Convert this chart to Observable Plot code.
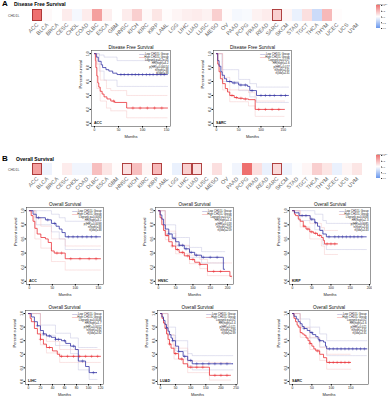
<!DOCTYPE html>
<html><head><meta charset="utf-8">
<script src="https://cdn.jsdelivr.net/npm/d3@7"></script>
<script src="https://cdn.jsdelivr.net/npm/@observablehq/plot@0.6"></script>
<style>
body{margin:0;background:#fff;font-family:"Liberation Sans",Arial,sans-serif}
#root{position:relative;width:392px;height:400px;overflow:hidden;background:#fff}
.t{position:absolute;font-weight:bold;color:#000;white-space:nowrap;line-height:1}
</style></head><body><div id="root"></div>
<script>
// ---------- heatmap data ----------
const cancers = ["ACC","BLCA","BRCA","CESC","CHOL","COAD","DLBC","ESCA","GBM","HNSC","KICH","KIRC","KIRP","LAML","LGG","LIHC","LUAD","LUSC","MESO","OV","PAAD","PCPG","PRAD","READ","SARC","SKCM","STAD","TGCT","THCA","THYM","UCEC","UCS","UVM"];
const dfsLogHR = [0.45,0.02,0.0,0.06,-0.03,0.06,0.3,0.05,0.0,0.06,0.15,0.02,0.08,0.01,0.03,0.05,0.06,0.04,0.15,0.01,-0.03,-0.02,0.04,0.06,0.15,0.03,-0.06,0.1,-0.15,0.22,0.01,0.0,0.0];
const osLogHR  = [0.3,-0.05,0.0,0.06,-0.04,-0.04,0.2,0.08,0.01,0.1,0.2,0.03,0.22,0.0,-0.06,0.15,0.1,0.01,0.1,0.0,-0.04,0.45,0.1,-0.06,0.12,-0.05,-0.01,0.03,0.15,0.08,-0.06,0.03,0.08];
const dfsSig = ["ACC","SARC"];
const osSig = ["ACC","HNSC","KIRP","LIHC","LUAD","SARC"];
const legendTicks = [-0.6,-0.3,0,0.3,0.6];

// ---------- KM data: [months, survival] ----------
const accDfsLow  = [[0,1],[4,0.95],[8,0.89],[14,0.84],[17,0.8],[24,0.77],[30,0.75],[38,0.72],[47,0.7],[152,0.7]];
const accDfsHigh = [[0,1],[2,0.9],[3,0.8],[5,0.68],[7,0.58],[9,0.52],[12,0.46],[16,0.42],[20,0.38],[26,0.35],[34,0.32],[42,0.3],[67,0.22],[152,0.22]];
const accDfsLowCI  = [[0,1,1],[10,0.75,0.98],[20,0.62,0.95],[47,0.53,0.9],[152,0.53,0.9]];
const accDfsHighCI = [[0,1,1],[5,0.5,0.85],[12,0.32,0.62],[25,0.22,0.5],[34,0.18,0.47],[67,0.08,0.4],[152,0.08,0.4]];
const accDfsLowCens = [55,62,70,78,85,92,100,108,115,122,130,138,145];
const accDfsHighCens = [40,80,95,110,125,140];
const accDfsStats = ["Logrank p=4.2e-05","HR(high)=4.2","p(HR)=0.00014","n(high)=38","n(low)=38"];

const sarcDfsLow  = [[0,1],[3,0.9],[6,0.82],[10,0.74],[13,0.69],[18,0.64],[23,0.6],[35,0.58],[50,0.55],[70,0.53],[75,0.47],[90,0.4],[162,0.4]];
const sarcDfsHigh = [[0,1],[3,0.85],[6,0.74],[9,0.64],[14,0.57],[20,0.5],[25,0.45],[30,0.4],[40,0.37],[48,0.36],[60,0.35],[72,0.34],[87,0.2],[153,0.2]];
const sarcDfsLowCI  = [[0,1,1],[13,0.6,0.77],[50,0.47,0.63],[75,0.38,0.57],[90,0.3,0.52],[162,0.3,0.52]];
const sarcDfsHighCI = [[0,1,1],[14,0.48,0.66],[30,0.31,0.48],[72,0.25,0.44],[87,0.1,0.32],[153,0.1,0.32]];
const sarcDfsLowCens = [30,40,55,65,80,100,110,120,130,145,155];
const sarcDfsHighCens = [35,45,55,65,95,110,125,140];
const sarcDfsStats = ["Logrank p=0.017","HR(high)=1.6","p(HR)=0.017","n(high)=131","n(low)=131"];

const accOsLow  = [[0,1],[8,0.95],[15,0.9],[35,0.87],[48,0.82],[58,0.78],[65,0.74],[71,0.69],[78,0.63],[155,0.63]];
const accOsHigh = [[0,1],[4,0.93],[8,0.85],[12,0.75],[17,0.67],[25,0.62],[35,0.6],[41,0.55],[48,0.43],[54,0.4],[78,0.32],[155,0.32]];
const accOsLowCI  = [[0,1,1],[15,0.8,1],[48,0.7,0.95],[65,0.6,0.9],[78,0.45,0.85],[155,0.45,0.85]];
const accOsHighCI = [[0,1,1],[12,0.6,0.9],[25,0.47,0.78],[48,0.28,0.6],[78,0.16,0.5],[155,0.16,0.5]];
const accOsLowCens = [20,40,55,85,95,105,115,125,135,145];
const accOsHighCens = [60,70,90,110,130,145];
const accOsStats = ["Logrank p=0.0063","HR(high)=3.1","p(HR)=0.0098","n(high)=38","n(low)=38"];

const hnscOsLow  = [[0,1],[5,0.94],[10,0.88],[15,0.8],[20,0.74],[30,0.67],[40,0.61],[50,0.56],[60,0.51],[75,0.46],[90,0.41],[105,0.37],[125,0.34],[186,0.34],[188,0.17],[192,0.17]];
const hnscOsHigh = [[0,1],[5,0.9],[10,0.8],[15,0.72],[20,0.65],[30,0.56],[40,0.5],[50,0.45],[60,0.41],[75,0.36],[90,0.31],[105,0.27],[120,0.24],[140,0.24],[142,0.14],[205,0.14],[207,0.07],[212,0.07]];
const hnscOsLowCI  = [[0,1,1],[20,0.68,0.8],[50,0.5,0.62],[90,0.34,0.48],[125,0.26,0.42],[192,0.26,0.42]];
const hnscOsHighCI = [[0,1,1],[20,0.59,0.71],[50,0.39,0.51],[90,0.25,0.37],[120,0.18,0.31],[142,0.08,0.26],[212,0.03,0.26]];
const hnscOsLowCens = [30,45,60,70,80,95,110,130,150,170];
const hnscOsHighCens = [25,40,55,70,85,100,120,160,180];
const hnscOsStats = ["Logrank p=0.017","HR(high)=1.4","p(HR)=0.018","n(high)=259","n(low)=259"];

const kirpOsLow  = [[0,1],[5,0.97],[17,0.93],[46,0.88],[58,0.83],[65,0.78],[71,0.72],[79,0.67],[88,0.63],[192,0.63]];
const kirpOsHigh = [[0,1],[5,0.95],[8,0.93],[15,0.88],[20,0.85],[28,0.78],[35,0.74],[45,0.7],[55,0.68],[65,0.65],[75,0.62],[80,0.58],[83,0.53],[117,0.53]];
const kirpOsLowCI  = [[0,1,1],[17,0.86,1],[58,0.73,0.95],[79,0.52,0.86],[88,0.45,0.82],[192,0.45,0.82]];
const kirpOsHighCI = [[0,1,1],[20,0.77,0.93],[45,0.6,0.82],[75,0.5,0.76],[83,0.38,0.72],[117,0.38,0.72]];
const kirpOsLowCens = [25,35,50,60,95,110,120,130,140,150,160,170,180];
const kirpOsHighCens = [30,40,50,60,70,90,100,110];
const kirpOsStats = ["Logrank p=0.0068","HR(high)=2.3","p(HR)=0.0085","n(high)=143","n(low)=143"];

const lihcOsLow  = [[0,1],[5,0.95],[10,0.88],[15,0.82],[20,0.75],[25,0.7],[30,0.67],[38,0.65],[45,0.62],[55,0.6],[62,0.56],[70,0.52],[78,0.47],[83,0.3],[95,0.22],[101,0.13],[114,0.13]];
const lihcOsHigh = [[0,1],[3,0.93],[5,0.88],[10,0.78],[15,0.7],[20,0.62],[25,0.55],[30,0.5],[40,0.45],[48,0.4],[52,0.37],[120,0.37]];
const lihcOsLowCI  = [[0,1,1],[20,0.68,0.83],[45,0.53,0.71],[70,0.41,0.64],[83,0.17,0.5],[101,0.03,0.5],[114,0.03,0.5]];
const lihcOsHighCI = [[0,1,1],[20,0.54,0.7],[30,0.42,0.59],[52,0.28,0.47],[120,0.28,0.47]];
const lihcOsLowCens = [15,25,35,45,50,60,75,90,108];
const lihcOsHighCens = [20,35,55,65,75,85,95,105,115];
const lihcOsStats = ["Logrank p=0.0046","HR(high)=1.7","p(HR)=0.0052","n(high)=182","n(low)=182"];

const luadOsLow  = [[0,1],[5,0.95],[10,0.9],[15,0.84],[20,0.79],[25,0.74],[30,0.69],[35,0.64],[40,0.6],[50,0.52],[60,0.44],[75,0.37],[90,0.31],[105,0.26],[240,0.26]];
const luadOsHigh = [[0,1],[5,0.93],[10,0.86],[15,0.78],[20,0.7],[25,0.62],[30,0.55],[35,0.49],[45,0.41],[60,0.33],[75,0.26],[90,0.21],[162,0.09],[232,0.09]];
const luadOsLowCI  = [[0,1,1],[25,0.68,0.8],[50,0.45,0.6],[90,0.23,0.41],[105,0.17,0.38],[240,0.17,0.38]];
const luadOsHighCI = [[0,1,1],[25,0.55,0.69],[45,0.33,0.49],[90,0.13,0.3],[162,0.02,0.28],[232,0.02,0.28]];
const luadOsLowCens = [20,40,60,80,100,120,140,160,180,200,220];
const luadOsHighCens = [30,50,70,100,120,140,180,200,220];
const luadOsStats = ["Logrank p=0.02","HR(high)=1.4","p(HR)=0.021","n(high)=239","n(low)=239"];

const sarcOsLow  = [[0,1],[4,0.96],[10,0.92],[15,0.88],[20,0.85],[25,0.81],[30,0.78],[38,0.75],[45,0.72],[52,0.69],[60,0.66],[66,0.62],[70,0.6],[80,0.58],[85,0.52],[88,0.48],[192,0.48]];
const sarcOsHigh = [[0,1],[4,0.93],[8,0.88],[12,0.83],[15,0.8],[20,0.72],[25,0.7],[30,0.68],[35,0.64],[40,0.6],[45,0.56],[50,0.52],[55,0.48],[60,0.45],[70,0.4],[80,0.35],[88,0.28],[150,0.28]];
const sarcOsLowCI  = [[0,1,1],[20,0.79,0.92],[45,0.64,0.8],[70,0.51,0.7],[88,0.38,0.6],[192,0.38,0.6]];
const sarcOsHighCI = [[0,1,1],[20,0.65,0.8],[45,0.47,0.65],[70,0.31,0.5],[88,0.18,0.4],[150,0.18,0.4]];
const sarcOsLowCens = [30,50,70,95,105,115,125,135,145,155,165,175,185];
const sarcOsHighCens = [45,65,95,105,115,125,135,145];
const sarcOsStats = ["Logrank p=0.02","HR(high)=1.6","p(HR)=0.021","n(high)=131","n(low)=131"];

// ---------- drawing ----------
const root = document.getElementById("root");
const FONT = "'Liberation Sans', Arial, sans-serif";
const BLUE = "#2b2ba0", RED = "#e8262c";
const colorScale = {type: "linear", domain: [-0.6, 0, 0.6], range: ["#2f6fe6", "#ffffff", "#e8403f"], clamp: true};

function put(node, left, top) {
  node.style.position = "absolute";
  node.style.left = left + "px";
  node.style.top = top + "px";
  root.appendChild(node);
}
function label(text, left, top, size) {
  const d = document.createElement("div");
  d.className = "t";
  d.textContent = text;
  d.style.fontSize = size + "px";
  put(d, left, top);
}

function heatmap(values, sig, mt) {
  const data = cancers.map((c, i) => ({c, v: values[i]}));
  return Plot.plot({
    width: 392, height: mt + 12 + 23,
    marginLeft: 22, marginRight: 20, marginTop: mt, marginBottom: 23,
    style: {fontFamily: FONT, background: "transparent"},
    x: {domain: cancers, padding: 0, axis: null},
    y: {domain: ["CHD1L"], padding: 0},
    color: colorScale,
    marks: [
      Plot.cell(data, {x: "c", y: () => "CHD1L", fill: "v"}),
      Plot.cell(data.filter(d => sig.includes(d.c)), {x: "c", y: () => "CHD1L", fill: "none", stroke: "#a83232", strokeWidth: 0.9, inset: 0.5}),
      Plot.text(data, {x: "c", text: "c", frameAnchor: "bottom", dy: 2.5, rotate: -45, textAnchor: "end", lineAnchor: "middle", fontSize: 5.5, fill: "#666"}),
      Plot.axisY({tickSize: 0, tickPadding: 3, fontSize: 3.5, fill: "#444", label: null})
    ]
  });
}

function legend(title) {
  const stops = d3.range(-0.6, 0.6, 0.02);
  return Plot.plot({
    width: 20, height: 30, marginLeft: 4, marginRight: 12, marginTop: 4, marginBottom: 3,
    style: {fontFamily: FONT, background: "transparent"},
    x: {domain: [0, 1], axis: null},
    y: {domain: [-0.6, 0.6]},
    color: colorScale,
    marks: [
      Plot.rect(stops, {x1: 0, x2: 1, y1: d => d, y2: d => d + 0.021, fill: d => d + 0.01}),
      Plot.axisY({anchor: "right", ticks: legendTicks, tickSize: 0.8, tickPadding: 0.5, fontSize: 2.3, fill: "#444", tickFormat: d => d.toFixed(1), label: null}),
      Plot.text([title], {frameAnchor: "top-left", dy: -1, lineAnchor: "bottom", textAnchor: "start", fontSize: 2.4, fill: "#444"})
    ]
  });
}

function stepAt(curve, t) {
  let s = curve[0][1];
  for (const [tt, ss] of curve) if (tt <= t) s = ss;
  return s;
}

function km(o) {
  const {low, high, lowCI, highCI, lowCens, highCens, xmax, xticks, name, title, stats, width, height, mr} = o;
  const ciStyle = (col) => ({x: d => d[0], y: d => d[1], curve: "step-after", stroke: col, strokeWidth: 0.4, strokeDasharray: "0.8,0.8"});
  const line = (col) => ({x: d => d[0], y: d => d[1], curve: "step-after", stroke: col, strokeWidth: 0.75});
  const cens = (curve, times) => times.map(t => [t, stepAt(curve, t)]);
  const fs = 2.8;
  return Plot.plot({
    width, height, marginLeft: 19, marginRight: mr ?? 4, marginTop: 8, marginBottom: 14,
    style: {fontFamily: FONT, background: "transparent"},
    x: {domain: [-0.04 * xmax, 1.04 * xmax]},
    y: {domain: [-0.045, 1.045]},
    marks: [
      Plot.line(lowCI.map(d => [d[0], d[1]]), ciStyle("#b4b4d8")),
      Plot.line(lowCI.map(d => [d[0], d[2]]), ciStyle("#b4b4d8")),
      Plot.line(highCI.map(d => [d[0], d[1]]), ciStyle("#f2b8b8")),
      Plot.line(highCI.map(d => [d[0], d[2]]), ciStyle("#f2b8b8")),
      Plot.line(high, line(RED)),
      Plot.line(low, line(BLUE)),
      Plot.dot(cens(high, highCens), {x: d => d[0], y: d => d[1], symbol: "plus", r: 1.1, stroke: RED, strokeWidth: 0.4}),
      Plot.dot(cens(low, lowCens), {x: d => d[0], y: d => d[1], symbol: "plus", r: 1.1, stroke: BLUE, strokeWidth: 0.4}),
      Plot.frame({stroke: "#333", strokeWidth: 0.5}),
      Plot.axisX({ticks: xticks, tickSize: 1.5, tickPadding: 1, fontSize: 3.3, fill: "#222", label: null}),
      Plot.axisY({ticks: [0, 0.2, 0.4, 0.6, 0.8, 1], tickFormat: d => d.toFixed(1), tickSize: 1.5, tickPadding: 1, tickRotate: -90, fontSize: 3.3, fill: "#222", label: null}),
      Plot.text(["Months"], {frameAnchor: "bottom", dy: 8.5, lineAnchor: "top", fontSize: 4, fill: "#222"}),
      Plot.text(["Percent survival"], {frameAnchor: "left", dx: -11, rotate: -90, fontSize: 4, fill: "#222"}),
      Plot.text([title], {frameAnchor: "top", dy: -1.5, lineAnchor: "bottom", fontSize: 4.6, fill: "#111"}),
      Plot.text([["Low CHD1L Group", "High CHD1L Group", ...stats].join("\n")], {frameAnchor: "top-right", dx: -2, dy: 2, lineAnchor: "top", textAnchor: "end", fontSize: fs, lineHeight: 1.15, fill: "#222"}),
      Plot.text(["\u2014\u2014"], {frameAnchor: "top-right", dx: -26, dy: 2, lineAnchor: "top", textAnchor: "end", fontSize: fs, fill: BLUE}),
      Plot.text(["\u2014\u2014"], {frameAnchor: "top-right", dx: -26, dy: 2 + fs * 1.15, lineAnchor: "top", textAnchor: "end", fontSize: fs, fill: RED}),
      Plot.text([name], {frameAnchor: "bottom-left", dx: 2.5, dy: -2.5, lineAnchor: "bottom", textAnchor: "start", fontSize: 3.6, fontWeight: "bold", fill: "#111"})
    ]
  });
}

// Panel A
label("A", 2, 0, 8);
label("Disease Free Survival", 14, 2, 5);
put(heatmap(dfsLogHR, dfsSig, 9), 0, 0);
put(legend("log10(HR)"), 372, 1);
put(km({low: accDfsLow, high: accDfsHigh, lowCI: accDfsLowCI, highCI: accDfsHighCI, lowCens: accDfsLowCens, highCens: accDfsHighCens,
  xmax: 152, xticks: [0, 50, 100, 150], name: "ACC", title: "Disease Free Survival", stats: accDfsStats, width: 102, height: 98}), 72, 42);
put(km({low: sarcDfsLow, high: sarcDfsHigh, lowCI: sarcDfsLowCI, highCI: sarcDfsHighCI, lowCens: sarcDfsLowCens, highCens: sarcDfsHighCens,
  xmax: 162, xticks: [0, 50, 100, 150], name: "SARC", title: "Disease Free Survival", stats: sarcDfsStats, width: 101, height: 98}), 194, 42);

// Panel B
label("B", 2, 155, 8);
label("Overall Survival", 16, 157, 5);
put(heatmap(osLogHR, osSig, 13), 0, 150);
put(legend("log10(HR)"), 372, 151);
put(km({low: accOsLow, high: accOsHigh, lowCI: accOsLowCI, highCI: accOsHighCI, lowCens: accOsLowCens, highCens: accOsHighCens,
  xmax: 155, xticks: [0, 50, 100, 150], name: "ACC", title: "Overall Survival", stats: accOsStats, width: 100, height: 99}), 7, 199);
put(km({low: hnscOsLow, high: hnscOsHigh, lowCI: hnscOsLowCI, highCI: hnscOsHighCI, lowCens: hnscOsLowCens, highCens: hnscOsHighCens,
  xmax: 209, xticks: [0, 50, 100, 150, 200], name: "HNSC", title: "Overall Survival", stats: hnscOsStats, width: 101, height: 99}), 136, 199);
put(km({low: kirpOsLow, high: kirpOsHigh, lowCI: kirpOsLowCI, highCI: kirpOsHighCI, lowCens: kirpOsLowCens, highCens: kirpOsHighCens,
  xmax: 195, xticks: [0, 50, 100, 150, 200], name: "KIRP", title: "Overall Survival", stats: kirpOsStats, width: 102, height: 99, mr: 2}), 270, 199);
put(km({low: lihcOsLow, high: lihcOsHigh, lowCI: lihcOsLowCI, highCI: lihcOsHighCI, lowCens: lihcOsLowCens, highCens: lihcOsHighCens,
  xmax: 120, xticks: [0, 20, 40, 60, 80, 100, 120], name: "LIHC", title: "Overall Survival", stats: lihcOsStats, width: 101, height: 96}), 6, 302);
put(km({low: luadOsLow, high: luadOsHigh, lowCI: luadOsLowCI, highCI: luadOsHighCI, lowCens: luadOsLowCens, highCens: luadOsHighCens,
  xmax: 245, xticks: [0, 50, 100, 150, 200, 250], name: "LUAD", title: "Overall Survival", stats: luadOsStats, width: 103, height: 96}), 138, 302);
put(km({low: sarcOsLow, high: sarcOsHigh, lowCI: sarcOsLowCI, highCI: sarcOsHighCI, lowCens: sarcOsLowCens, highCens: sarcOsHighCens,
  xmax: 188, xticks: [0, 50, 100, 150], name: "SARC", title: "Overall Survival", stats: sarcOsStats, width: 102, height: 96}), 270, 302);
</script></body></html>
